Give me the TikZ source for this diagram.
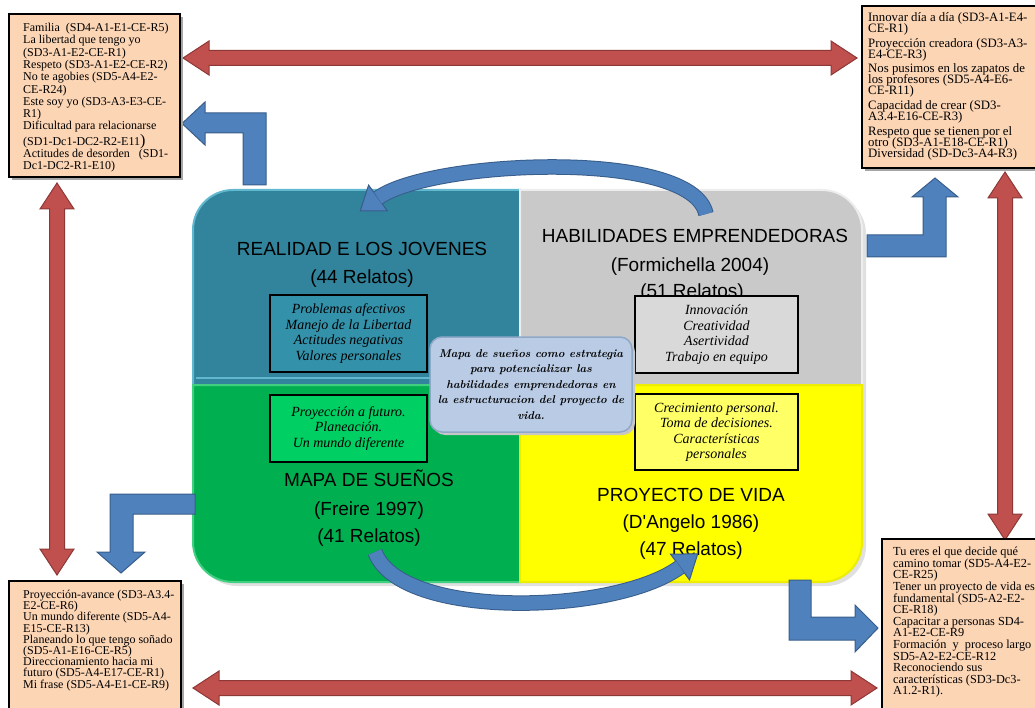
\documentclass[tikz,border=0pt]{standalone}
\usepackage{fontspec}
\newfontfamily\timesf{Liberation Serif}
\newfontfamily\arialf[Ligatures=TeXOff]{Liberation Sans}
\definecolor{peach}{HTML}{FCD5B5}
\definecolor{redf}{HTML}{C0504D}
\definecolor{redd}{HTML}{8C3836}
\definecolor{bluef}{HTML}{4F81BD}
\definecolor{blued}{HTML}{385D8A}
\definecolor{tealp}{HTML}{31849B}
\definecolor{teall}{HTML}{62B8CF}
\definecolor{teali}{HTML}{3491AA}
\definecolor{grayp}{HTML}{C9C9C9}
\definecolor{grayl}{HTML}{EDEDED}
\definecolor{grayi}{HTML}{D9D9D9}
\definecolor{greenp}{HTML}{00B050}
\definecolor{greenl}{HTML}{40D080}
\definecolor{greeni}{HTML}{00CF63}
\definecolor{yellowp}{HTML}{FFFF00}
\definecolor{yellowl}{HTML}{EDED00}
\definecolor{yellowi}{HTML}{FFFF66}
\definecolor{centerf}{HTML}{B9CBE5}
\definecolor{centerd}{HTML}{8FA8C8}
\tikzset{
  notebox/.style={fill=peach, draw=black, line width=2pt},
  boxshadow/.style={fill=black!35},
  notetext/.style={anchor=north west, inner sep=0pt, align=left},
  redarrow/.style={fill=redf, draw=redd, line width=1pt, line join=miter},
  bluearrow/.style={fill=bluef, draw=blued, line width=1pt, line join=miter},
  title/.style={anchor=base, inner sep=0pt, font=\arialf\fontsize{19}{19}\selectfont},
  innerbox/.style={draw=black, line width=2.2pt, inner sep=0pt, align=center,
    font=\timesf\itshape\fontsize{14}{15.5}\selectfont},
  centerbox/.style={fill=centerf, draw=centerd, line width=1.5pt, rounded corners=12pt,
    minimum width=202pt, minimum height=95pt, inner sep=0pt, align=center,
    font=\bfseries\itshape\fontsize{11.3}{15.5}\selectfont},
}
\begin{document}
\lineskiplimit=-100pt
\begin{tikzpicture}[x=1pt,y=-1pt]
\useasboundingbox (0,0) rectangle (1035,708);
\clip (0,0) rectangle (1035,708);

% ---------- panels ----------
\fill[black!12] (197,389) -- (197,234) arc[start angle=180,end angle=270,radius=40] -- (826,194) arc[start angle=270,end angle=360,radius=40] -- (866,546) arc[start angle=0,end angle=90,radius=40] -- (237,586) arc[start angle=90,end angle=180,radius=40] -- cycle;
\filldraw[fill=tealp, draw=teall, line width=2pt] (193,385) -- (193,230) arc[start angle=180,end angle=270,radius=40] -- (520,190) -- (520,385) -- cycle;
\draw[teall, line width=2pt] (196,378) -- (517,378);
\filldraw[fill=grayp, draw=grayl, line width=2pt] (520,190) -- (822,190) arc[start angle=270,end angle=360,radius=40] -- (862,385) -- (520,385) -- cycle;
\filldraw[fill=greenp, draw=greenl, line width=2pt] (193,385) -- (520,385) -- (520,582) -- (233,582) arc[start angle=90,end angle=180,radius=40] -- cycle;
\filldraw[fill=yellowp, draw=yellowl, line width=2pt] (520,385) -- (862,385) -- (862,542) arc[start angle=0,end angle=90,radius=40] -- (520,582) -- cycle;

% ---------- titles ----------
\node[title] (t1a) at (362,256) {REALIDAD E LOS JOVENES};
\node[title] (t1b) at (362,284) {(44 Relatos)};
\node[title] (t2a) at (695,243) {HABILIDADES EMPRENDEDORAS};
\node[title] (t2b) at (690,272) {(Formichella 2004)};
\node[title] (t2c) at (692,298) {(51 Relatos)};
\node[title] (t3a) at (369,486) {MAPA DE SUEÑOS};
\node[title] (t3b) at (369,515) {(Freire 1997)};
\node[title] (t3c) at (369,542) {(41 Relatos)};
\node[title] (t4a) at (691,501) {PROYECTO DE VIDA};
\node[title] (t4b) at (691,528) {(D'Angelo 1986)};
\node[title] (t4c) at (691,555) {(47 Relatos)};

% ---------- inner boxes ----------
\node[innerbox, fill=teali, minimum width=157pt, minimum height=77pt] (b1) at (348.5,333.5)
  {Problemas afectivos\\Manejo de la Libertad\\Actitudes negativas\\Valores personales};
\node[innerbox, fill=grayi, minimum width=163pt, minimum height=77pt] (b2) at (716.5,334.5)
  {Innovación\\Creatividad\\Asertividad\\Trabajo en equipo};
\node[innerbox, fill=greeni, minimum width=157pt, minimum height=67pt] (b3) at (348.5,428.5)
  {Proyección a futuro.\\Planeación.\\Un mundo diferente};
\node[innerbox, fill=yellowi, minimum width=163pt, minimum height=76pt] (b4) at (716.5,432)
  {Crecimiento personal.\\Toma de decisiones.\\Características\\personales};

% ---------- center box ----------
\fill[black!22, rounded corners=12pt] (433,340) rectangle (635,435);
\node[centerbox] (center) at (531,384.5)
  {Mapa de sueños como estrategia\\para potencializar las\\habilidades emprendedoras en\\la estructuracion del proyecto de\\vida.};

% ---------- curved arrows ----------
\coordinate (c1s) at (706,214);
\coordinate (c1e) at (378,198);
\draw[blued, line width=15.5pt] (c1s) .. controls (692,148) and (430,160) .. (c1e);
\filldraw[bluearrow] (387.4,210.9) -- (360.2,211) -- (368.6,185.1) -- cycle;
\draw[bluef, line width=13.5pt] (c1s) .. controls (692,148) and (430,160) .. (c1e);

\coordinate (c2s) at (375,552);
\coordinate (c2e) at (680,567);
\draw[blued, line width=15.5pt] (c2s) .. controls (400,620) and (615,615) .. (c2e);
\filldraw[bluearrow] (689.5,579.9) -- (697.7,553.9) -- (670.5,554.1) -- cycle;
\draw[bluef, line width=13.5pt] (c2s) .. controls (400,620) and (615,615) .. (c2e);

% ---------- bent blue arrows ----------
\filldraw[bluearrow] (266,185) -- (266,113) -- (205,113) -- (205,102) -- (182,123.5) -- (205,145) -- (205,133) -- (243,133) -- (243,185) -- cycle;
\filldraw[bluearrow] (867,235) -- (923,235) -- (923,197) -- (912,197) -- (935,178) -- (958,197) -- (946,197) -- (946,257) -- (867,257) -- cycle;
\filldraw[bluearrow] (195,494) -- (110,494) -- (110,552) -- (97,552) -- (121,573) -- (145,552) -- (133,552) -- (133,514) -- (195,514) -- cycle;
\filldraw[bluearrow] (789,580) -- (789,640) -- (855,640) -- (855,652) -- (878,628) -- (855,605) -- (855,617) -- (811,617) -- (811,580) -- cycle;

% ---------- red double arrows ----------
\filldraw[redarrow] (183,58) -- (209,41) -- (209,50.5) -- (831,50.5) -- (831,41) -- (857,58) -- (831,75) -- (831,65.5) -- (209,65.5) -- (209,75) -- cycle;
\filldraw[redarrow] (193,688) -- (219,671) -- (219,680.5) -- (851,680.5) -- (851,671) -- (877,688) -- (851,705) -- (851,695.5) -- (219,695.5) -- (219,705) -- cycle;
\filldraw[redarrow] (57,183) -- (74,209) -- (64.5,209) -- (64.5,549) -- (74,549) -- (57,575) -- (40,549) -- (49.5,549) -- (49.5,209) -- (40,209) -- cycle;
\filldraw[redarrow] (1005,172) -- (1022,198) -- (1012.5,198) -- (1012.5,514) -- (1022,514) -- (1005,540) -- (988,514) -- (997.5,514) -- (997.5,198) -- (988,198) -- cycle;

% ---------- note boxes ----------
\fill[boxshadow] (12,17) rectangle (183,180);
\draw[notebox] (9,14) rectangle (180,177);
\node[notetext, font=\timesf\fontsize{12}{12.3}\selectfont] (n1) at (23,23)
  {Familia\ \ (SD4-A1-E1-CE-R5)\\
   La libertad que tengo yo\\
   (SD3-A1-E2-CE-R1)\\
   Respeto (SD3-A1-E2-CE-R2)\\
   No te agobies (SD5-A4-E2-\\
   CE-R24)\\
   Este soy yo (SD3-A3-E3-CE-\\
   R1)\\
   Dificultad para relacionarse\\[3pt]
   (SD1-Dc1-DC2-R2-E11{\fontsize{16}{16}\selectfont)}\\
   Actitudes de desorden\ \ \ (SD1-\\
   Dc1-DC2-R1-E10)};

\fill[boxshadow] (865,9) rectangle (1045,171);
\draw[notebox] (862,6) rectangle (1042,168);
\node[notetext, font=\timesf\fontsize{12.8}{11}\selectfont] (n2) at (868,12)
  {Innovar día a día (SD3-A1-E4-\\
   CE-R1)\\[4pt]
   Proyección creadora (SD3-A3-\\
   E4-CE-R3)\\[3pt]
   Nos pusimos en los zapatos de\\
   los profesores (SD5-A4-E6-\\
   CE-R11)\\[4pt]
   Capacidad de crear (SD3-\\
   A3.4-E16-CE-R3)\\[4pt]
   Respeto que se tienen por el\\
   otro (SD3-A1-E18-CE-R1)\\
   Diversidad (SD-Dc3-A4-R3)};

\fill[boxshadow] (12,584) rectangle (184,715);
\draw[notebox] (9,581) rectangle (181,712);
\node[notetext, font=\timesf\fontsize{12}{11.2}\selectfont] (n3) at (23,590)
  {Proyección-avance (SD3-A3.4-\\
   E2-CE-R6)\\
   Un mundo diferente (SD5-A4-\\
   E15-CE-R13)\\
   Planeando lo que tengo soñado\\
   (SD5-A1-E16-CE-R5)\\
   Direccionamiento hacia mi\\
   futuro (SD5-A4-E17-CE-R1)\\
   Mi frase (SD5-A4-E1-CE-R9)};

\fill[boxshadow] (885,542) rectangle (1045,715);
\draw[notebox] (882,539) rectangle (1042,712);
\node[notetext, font=\timesf\fontsize{12.3}{11.6}\selectfont] (n4) at (893,547)
  {Tu eres el que decide qué\\
   camino tomar (SD5-A4-E2-\\
   CE-R25)\\
   Tener un proyecto de vida es\\
   fundamental (SD5-A2-E2-\\
   CE-R18)\\
   Capacitar a personas SD4-\\
   A1-E2-CE-R9\\
   Formación\ \ y\ \ proceso largo\\
   SD5-A2-E2-CE-R12\\
   Reconociendo sus\\
   características (SD3-Dc3-\\
   A1.2-R1).};
\end{tikzpicture}
\end{document}
